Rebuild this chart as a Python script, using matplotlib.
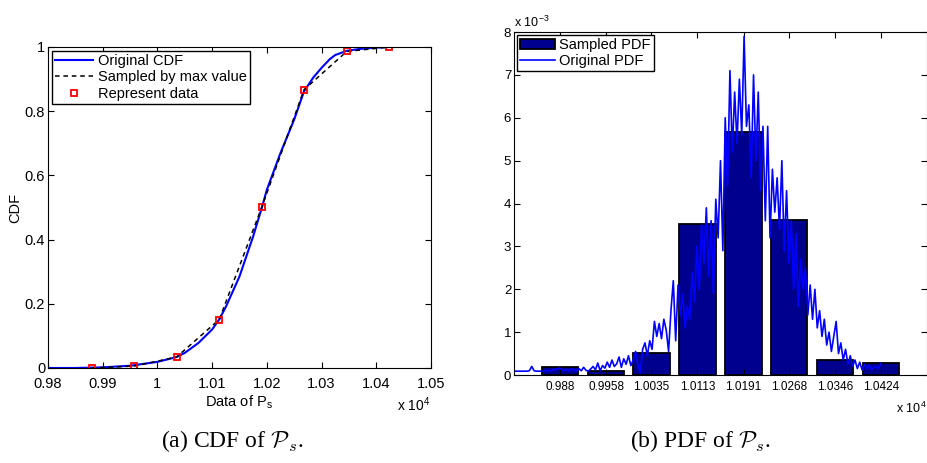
import numpy as np
import matplotlib
matplotlib.use("Agg")
import matplotlib.pyplot as plt

plt.rcParams["font.family"] = ["Liberation Sans", "DejaVu Sans"]
plt.rcParams["mathtext.fontset"] = "cm"

# ---- data (x in units of 1e4, pdf in units of 1e-3) ----
rep_x = [0.988, 0.9958, 1.0035, 1.0113, 1.0191, 1.0268, 1.0346, 1.0424]
rep_cdf = [0.0, 0.006, 0.034, 0.151, 0.502, 0.867, 0.986, 1.0]

cdf_x = [0.980, 0.985, 0.990, 0.995, 1.000, 1.0035, 1.005, 1.0075, 1.010, 1.0113,
         1.0125, 1.015, 1.0175, 1.0191, 1.020, 1.0225, 1.025, 1.0268, 1.0285, 1.030,
         1.0315, 1.0325, 1.0346, 1.037, 1.040, 1.0424]
cdf_y = [0.0, 0.0, 0.002, 0.007, 0.019, 0.034, 0.047, 0.078, 0.12, 0.151,
         0.19, 0.285, 0.41, 0.50, 0.555, 0.67, 0.774, 0.862, 0.905, 0.935,
         0.962, 0.975, 0.988, 0.994, 0.998, 1.0]

bar_x = rep_x
bar_labels = ['0.988', '0.9958', '1.0035', '1.0113', '1.0191', '1.0268', '1.0346', '1.0424']
bar_h = [0.18, 0.09, 0.52, 3.52, 5.68, 3.62, 0.35, 0.27]

pdf_vals = [
    0.09, 0.09, 0.09, 0.09, 0.09, 0.09, 0.10, 0.20, 0.10, 0.09, 0.09, 0.09, 0.09,
    0.10, 0.11, 0.10, 0.12, 0.13, 0.15, 0.16, 0.12, 0.11, 0.13, 0.10, 0.14,
    0.12, 0.09, 0.15, 0.10, 0.18, 0.11, 0.09, 0.14, 0.20, 0.12, 0.28, 0.10, 0.22,
    0.16, 0.30, 0.18, 0.35, 0.20, 0.26, 0.42, 0.18, 0.38, 0.25, 0.45, 0.22,
    0.35, 0.55, 0.25, 0.05, 0.60, 0.75, 0.45, 0.80, 0.60, 1.25, 0.90, 1.20, 0.85,
    1.30, 1.05, 0.55, 1.50, 2.20, 0.80, 2.10, 1.40, 1.90, 1.10, 1.60, 1.30,
    2.4, 1.7, 3.0, 2.0, 3.5, 2.6, 3.9, 2.3, 3.6, 1.9, 4.1, 3.2, 5.0,
    2.9, 6.0, 4.4, 7.1, 5.2, 6.6, 5.4, 6.9, 5.6, 7.9, 5.8, 6.3,
    4.6, 7.0, 5.0, 6.6, 4.3, 5.8, 3.6, 5.8, 3.2, 4.8, 3.8, 4.6, 3.4,
    5.0, 2.9, 4.3, 2.6, 3.6, 2.0, 3.3, 1.6, 2.7, 2.0, 2.5, 1.4,
    2.1, 1.3, 2.0, 1.1, 1.5, 0.9, 1.3, 0.7, 1.0, 0.55, 0.9, 1.25, 0.5,
    0.75, 0.35, 0.6, 0.25, 0.45, 0.2, 0.35, 0.15, 0.3, 0.12, 0.25, 0.15,
    0.22, 0.12, 0.18, 0.20, 0.15, 0.27,
]
pdf_x = np.linspace(0.9804, 1.0424, len(pdf_vals))

fig = plt.figure(figsize=(9.28, 4.63), dpi=100)

# ---- (a) CDF ----
ax1 = fig.add_axes([0.0517, 0.2052, 0.4127, 0.6933])
ax1.plot(cdf_x, cdf_y, color='#0000ff', lw=1.5, label='Original CDF')
ax1.plot(rep_x, rep_cdf, color='black', lw=1.1, ls=(0, (3, 2.5)), label='Sampled by max value')
ax1.plot(rep_x, rep_cdf, ls='none', marker='s', ms=4, mfc='none', mec='red', mew=1.3,
         label='Represent data')
ax1.set_xlim(0.98, 1.05)
ax1.set_ylim(0, 1)
ax1.set_xticks([0.98, 0.99, 1.0, 1.01, 1.02, 1.03, 1.04, 1.05])
ax1.set_xticklabels(['0.98', '0.99', '1', '1.01', '1.02', '1.03', '1.04', '1.05'])
ax1.set_yticks([0, 0.2, 0.4, 0.6, 0.8, 1])
ax1.set_yticklabels(['0', '0.2', '0.4', '0.6', '0.8', '1'])
ax1.tick_params(direction='in', top=True, right=True, labelsize=10.5, length=4, pad=2)
ax1.tick_params(axis='x', pad=6.5)
ax1.set_ylabel('CDF', fontsize=10.5, labelpad=2)
ax1.set_xlabel('Data of P$_\\mathregular{s}$', fontsize=10.5, labelpad=2)
ax1.text(1.0, -0.085, 'x 10$^\\mathregular{4}$', transform=ax1.transAxes, ha='right',
         va='top', fontsize=10)
leg1 = ax1.legend(loc='upper left', fontsize=10.5, borderaxespad=0.25, handlelength=2.6,
                  handletextpad=0.3, labelspacing=0.15, borderpad=0.25, fancybox=False,
                  framealpha=1, edgecolor='black')
leg1.get_frame().set_linewidth(1.0)

# ---- (b) PDF ----
ax2 = fig.add_axes([0.5539, 0.190, 0.4450, 0.7408])
bars = ax2.bar(bar_x, bar_h, width=0.8 * 0.0078, color='#00008f', edgecolor='black', lw=1.3)
line, = ax2.plot(pdf_x, pdf_vals, color='#0000ff', lw=1.2)
ax2.set_xlim(0.9802, 1.0502)
ax2.set_ylim(0, 8)
ax2.set_xticks(bar_x)
ax2.set_xticklabels(bar_labels)
ax2.set_yticks(range(9))
ax2.tick_params(direction='in', top=True, right=True, length=4, pad=2)
ax2.tick_params(axis='x', labelsize=8.5, pad=4)
ax2.tick_params(axis='y', labelsize=9.5)
ax2.text(0.0, 1.005, 'x 10$^\\mathregular{-3}$', transform=ax2.transAxes, ha='left',
         va='bottom', fontsize=9)
ax2.text(1.0, -0.075, 'x 10$^\\mathregular{4}$', transform=ax2.transAxes, ha='right',
         va='top', fontsize=9)
leg2 = ax2.legend([bars, line], ['Sampled PDF', 'Original PDF'], loc='upper left',
                  fontsize=10.5, borderaxespad=0.2, handlelength=2.4,
                  handletextpad=0.3, labelspacing=0.15, borderpad=0.2, fancybox=False,
                  framealpha=1, edgecolor='black')
leg2.get_frame().set_linewidth(1.0)

# ---- captions ----
fig.text(0.25, 0.047, '(a) CDF of $\\mathcal{P}_s$.', ha='center', va='center',
         fontsize=17, family='Liberation Serif')
fig.text(0.755, 0.047, '(b) PDF of $\\mathcal{P}_s$.', ha='center', va='center',
         fontsize=17, family='Liberation Serif')

fig.savefig('out.png', dpi=100)
